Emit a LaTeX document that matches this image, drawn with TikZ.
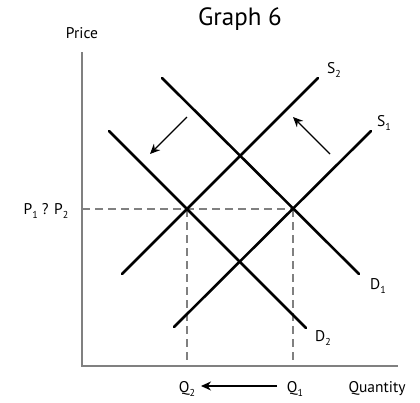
\documentclass[tikz,border=0pt]{standalone}
\usepackage{fontspec}
\setmainfont{PT Sans}
\usetikzlibrary{arrows.meta}
\newcommand{\lowsub}[1]{\raisebox{-0.45ex}{\fontsize{10}{10}\selectfont #1}}
\begin{document}
\begin{tikzpicture}[x=1pt,y=-1pt,
  axis/.style={draw=black!50,line width=2pt},
  curve/.style={draw=black,line width=2.6pt},
  guide/.style={draw=black!50,line width=1.6pt,dash pattern=on 8pt off 5pt},
  shiftarrow/.style={draw=black,line width=1.4pt,-{Stealth[length=10pt,width=9pt]}},
  lab/.style={font=\fontsize{15.5}{17}\selectfont,inner sep=0pt}]
\useasboundingbox (0,0) rectangle (420,402);
% axes
\coordinate (ytop) at (82,52);
\coordinate (orig) at (82,366);
\coordinate (xend) at (398,366);
\draw[axis] (ytop) -- (orig) -- (xend);
% guides
\coordinate (pl) at (82,209);
\coordinate (e2) at (187,209);
\coordinate (e1) at (293,209);
\coordinate (q2b) at (187,364);
\coordinate (q1b) at (293,364);
\draw[guide] (pl) -- (e1);
\draw[guide] (e2) -- (q2b);
\draw[guide] (e1) -- (q1b);
% curves
\coordinate (s2a) at (122,274); \coordinate (s2b) at (318,78);
\coordinate (s1a) at (174,327); \coordinate (s1b) at (371,131);
\coordinate (d1a) at (162,78);  \coordinate (d1b) at (359,274);
\coordinate (d2a) at (109,131); \coordinate (d2b) at (306,328);
\draw[curve,line cap=round] (s2a) -- (s2b);
\draw[curve,line cap=round] (s1a) -- (s1b);
\draw[curve,line cap=round] (d1a) -- (d1b);
\draw[curve,line cap=round] (d2a) -- (d2b);
% shift arrows
\coordinate (a1s) at (187,117); \coordinate (a1e) at (150,154);
\coordinate (a2s) at (330,154); \coordinate (a2e) at (293,117);
\draw[shiftarrow] (a1s) -- (a1e);
\draw[shiftarrow] (a2s) -- (a2e);
% labels
\node[inner sep=0pt,font=\fontsize{25}{28}\selectfont] (title) at (240,19) {Graph 6};
\node[lab] (price) at (82,33) {Price};
\node[lab] (qty) at (377,389) {Quantity};
\node[lab] (p) at (46,211) {P\lowsub{1} ? P\lowsub{2}};
\node[lab] (s2) at (334,70) {S\lowsub{2}};
\node[lab] (s1) at (384,123) {S\lowsub{1}};
\node[lab] (d1) at (378,286) {D\lowsub{1}};
\node[lab] (d2) at (323,338) {D\lowsub{2}};
\node[lab] (q2) at (187,389) {Q\lowsub{2}};
\node[lab] (q1) at (295,389) {Q\lowsub{1}};
\coordinate (qa) at (277,386);
\coordinate (qb) at (201,386);
\draw[shiftarrow] (qa) -- (qb);
\end{tikzpicture}
\end{document}
